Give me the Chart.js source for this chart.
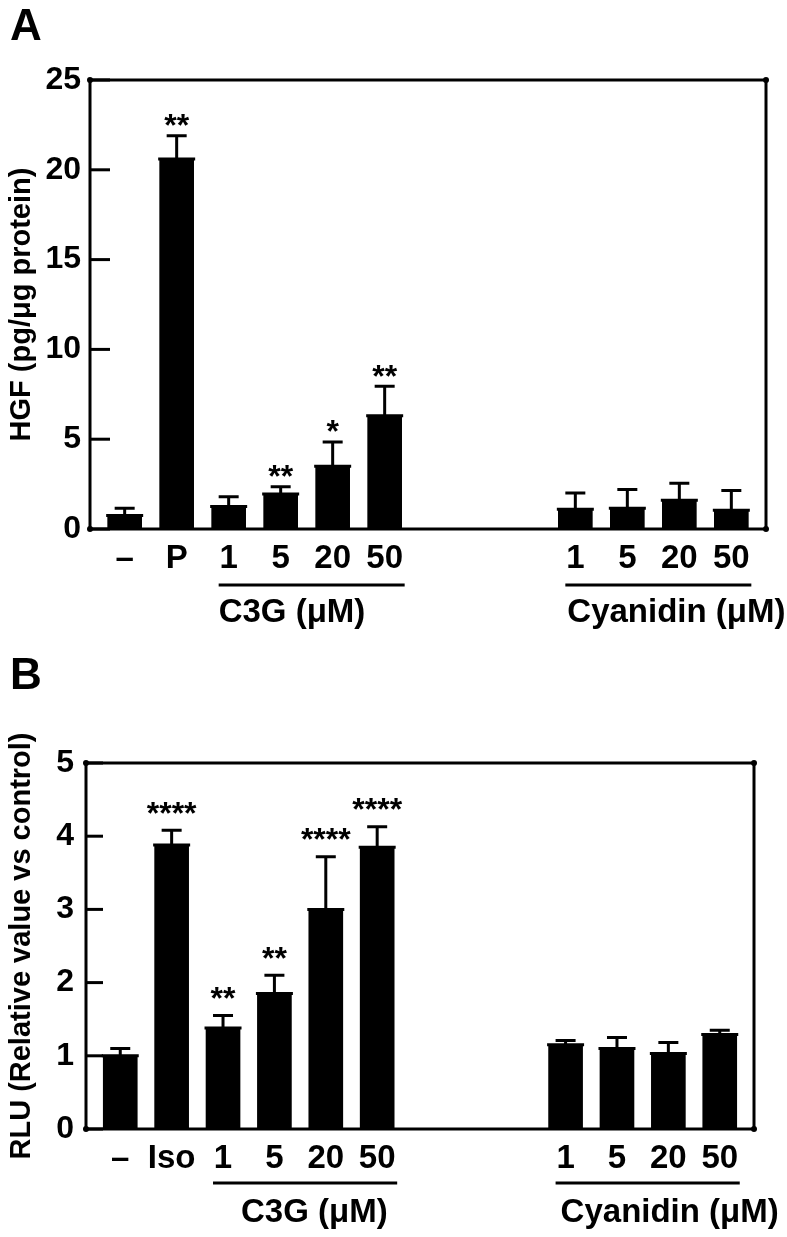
<!DOCTYPE html>
<html>
<head>
<meta charset="utf-8">
<script src="https://cdn.jsdelivr.net/npm/chart.js@4.4.0/dist/chart.umd.min.js"></script>
<style>
    body { margin: 0; background: #fff; }
    #wrap { position: relative; width: 787px; height: 1237px; }
    canvas { position: absolute; left: 0; }
    #chartA { top: 0; }
    #chartB { top: 630px; }
</style>
</head>
<body>
<div id="wrap">
    <canvas id="chartA" width="787" height="630"></canvas>
    <canvas id="chartB" width="787" height="607"></canvas>
</div>
<script>
// Datos del panel A (HGF)
const labelsA = ['\u2013', 'P', '1', '5', '20', '50', '1', '5', '20', '50'];
const hgfMean = [0.75, 20.6, 1.25, 1.95, 3.5, 6.3, 1.1, 1.15, 1.6, 1.05];
const hgfErr = [0.4, 1.3, 0.55, 0.4, 1.35, 1.65, 0.9, 1.05, 0.95, 1.1];
const hgfStars = ['', '**', '', '**', '*', '**', '', '', '', ''];
const ticksA = [0, 5, 10, 15, 20, 25];

// Datos del panel B (RLU)
const labelsB = ['\u2013', 'Iso', '1', '5', '20', '50', '1', '5', '20', '50'];
const rluMean = [1.0, 3.88, 1.38, 1.85, 3.0, 3.85, 1.15, 1.1, 1.03, 1.29];
const rluErr = [0.1, 0.2, 0.17, 0.25, 0.72, 0.28, 0.06, 0.15, 0.15, 0.06];
const rluStars = ['', '****', '**', '**', '****', '****', '', '', '', ''];
const ticksB = [0, 1, 2, 3, 4, 5];

// Grupos bajo el eje x: nombre, primera y ultima barra
const groupNames = ['C3G (\u03BCM)', 'Cyanidin (\u03BCM)'];
const groupFirst = [2, 6];
const groupLast = [5, 9];

const FONT = "'Liberation Sans', Arial, sans-serif";

// Cada barra ocupa una posicion en una rejilla fina de 40 huecos
const N_SLOTS = 40;
function slotOf(i) {
    return i < 6 ? 2 + 3 * i : 28 + 3 * (i - 6);
}

function toSlots(arr, empty) {
    const out = new Array(N_SLOTS).fill(empty);
    arr.forEach(function (v, i) { out[slotOf(i)] = v; });
    return out;
}

// Plugin que dibuja marco, marcas, barras de error, asteriscos y grupos
function decorPlugin(p) {
    return {
        id: 'decor' + p.letter,
        afterDatasetsDraw(chart) {
            const ctx = chart.ctx;
            const a = chart.chartArea;
            const xs = chart.scales.x;
            const ys = chart.scales.y;
            ctx.save();
            ctx.strokeStyle = '#000';
            ctx.fillStyle = '#000';
            ctx.lineCap = 'butt';

            // barras de error
            p.mean.forEach(function (m, i) {
                const x = xs.getPixelForValue(slotOf(i));
                const yTop = ys.getPixelForValue(m);
                const yCap = ys.getPixelForValue(m + p.err[i]);
                ctx.lineWidth = 3;
                ctx.beginPath();
                ctx.moveTo(x, yTop);
                ctx.lineTo(x, yCap);
                ctx.moveTo(x - 10, yCap);
                ctx.lineTo(x + 10, yCap);
                ctx.moveTo(x - p.barW / 2 - 1.5, yTop);
                ctx.lineTo(x + p.barW / 2 + 1.5, yTop);
                ctx.stroke();
                if (p.stars[i]) {
                    ctx.font = 'bold 32px ' + FONT;
                    ctx.textAlign = 'center';
                    ctx.textBaseline = 'alphabetic';
                    ctx.fillText(p.stars[i], x, yCap - p.starGap + 18.5);
                }
            });

            // marco completo
            ctx.lineWidth = 3;
            ctx.strokeRect(a.left, a.top, a.right - a.left, a.bottom - a.top);
            [[a.left, a.top], [a.right, a.top], [a.left, a.bottom], [a.right, a.bottom]].forEach(function (c) {
                ctx.beginPath();
                ctx.arc(c[0], c[1], 3, 0, Math.PI * 2);
                ctx.fill();
            });

            // marcas del eje y hacia dentro
            p.ticks.forEach(function (t) {
                const y = ys.getPixelForValue(t);
                ctx.beginPath();
                ctx.moveTo(a.left, y);
                ctx.lineTo(a.left + p.tickLen, y);
                ctx.stroke();
            });

            // lineas y nombres de grupo
            groupNames.forEach(function (name, g) {
                const x1 = xs.getPixelForValue(slotOf(groupFirst[g])) - 10;
                const x2 = xs.getPixelForValue(slotOf(groupLast[g])) + 20;
                const y = a.bottom + p.lineGap;
                ctx.lineWidth = 3;
                ctx.beginPath();
                ctx.moveTo(x1, y);
                ctx.lineTo(x2, y);
                ctx.stroke();
                ctx.font = 'bold 33px ' + FONT;
                ctx.textAlign = 'left';
                ctx.textBaseline = 'alphabetic';
                ctx.fillText(name, x1 + p.textShift[g], a.bottom + 93);
            });

            // letra del panel
            ctx.font = 'bold 44px ' + FONT;
            ctx.textAlign = 'left';
            ctx.textBaseline = 'alphabetic';
            ctx.fillText(p.letter, 10, p.letterY);
            ctx.restore();
        }
    };
}

function createPanel(id, p) {
    const ctx = document.getElementById(id).getContext('2d');
    const h = ctx.canvas.height;
    new Chart(ctx, {
        type: 'bar',
        data: {
            labels: toSlots(p.labels, ''),
            datasets: [{
                data: toSlots(p.mean, null),
                backgroundColor: '#000',
                borderWidth: 0,
                barThickness: p.barW
            }]
        },
        options: {
            responsive: false,
            animation: false,
            devicePixelRatio: 1,
            layout: { padding: { top: p.top, right: p.right, left: 0, bottom: 0 } },
            plugins: { legend: { display: false }, tooltip: { enabled: false } },
            scales: {
                x: {
                    type: 'category',
                    offset: false,
                    grid: { display: false, drawTicks: false },
                    border: { display: false },
                    ticks: {
                        autoSkip: false, maxRotation: 0, minRotation: 0,
                        color: '#000', padding: 10,
                        font: { family: FONT, size: 33, weight: 'bold' }
                    },
                    afterFit: function (s) { s.height = h - p.bottom; }
                },
                y: {
                    min: 0,
                    max: p.ticks[p.ticks.length - 1],
                    grid: { display: false, drawTicks: false },
                    border: { display: false },
                    afterBuildTicks: function (s) { s.ticks = p.ticks.map(function (v) { return { value: v }; }); },
                    ticks: {
                        color: '#000', padding: p.tickPad,
                        font: { family: FONT, size: 32, weight: 'bold' }
                    },
                    title: {
                        display: true, text: p.title, color: '#000',
                        padding: { top: 5, bottom: 0 },
                        font: { family: FONT, size: 29, weight: 'bold' }
                    },
                    afterFit: function (s) { s.width = p.left; }
                }
            }
        },
        plugins: [decorPlugin(p)]
    });
}

document.addEventListener('DOMContentLoaded', function () {
    createPanel('chartA', {
        letter: 'A', letterY: 40,
        labels: labelsA, mean: hgfMean, err: hgfErr, stars: hgfStars, ticks: ticksA,
        title: 'HGF (pg/\u03BCg protein)',
        left: 90, right: 21, top: 80, bottom: 529,
        barW: 34, tickLen: 20, tickPad: 9, starGap: 18, lineGap: 56,
        textShift: [0, 2]
    });
    createPanel('chartB', {
        letter: 'B', letterY: 59,
        labels: labelsB, mean: rluMean, err: rluErr, stars: rluStars, ticks: ticksB,
        title: 'RLU (Relative value vs control)',
        left: 86, right: 33, top: 133, bottom: 499,
        barW: 34, tickLen: 17, tickPad: 12, starGap: 25, lineGap: 54,
        textShift: [28, 5]
    });
});
</script>
</body>
</html>
